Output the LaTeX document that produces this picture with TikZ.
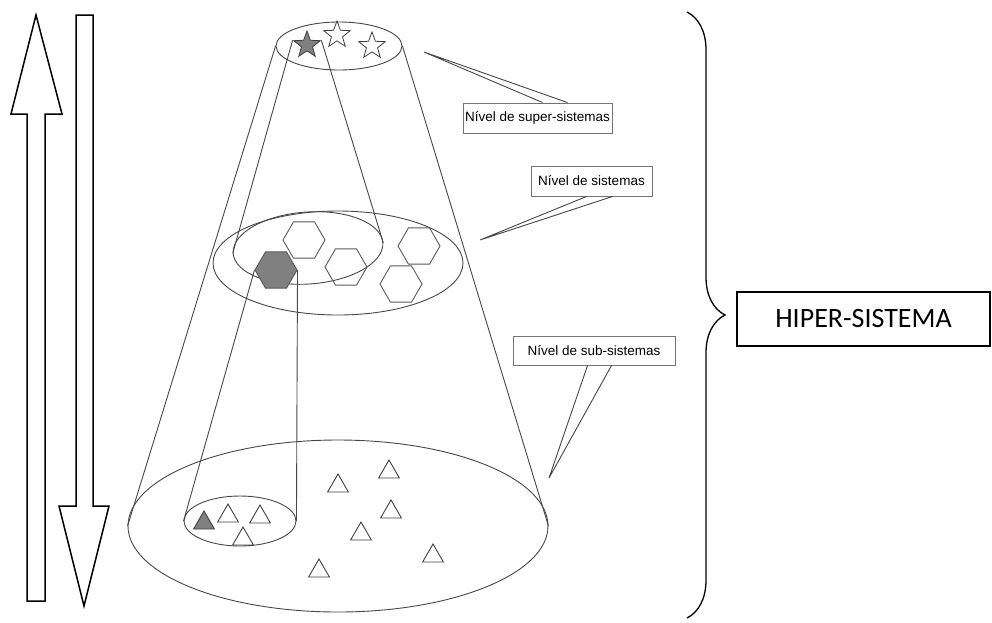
\documentclass[tikz,border=0pt]{standalone}
\usepackage{fontspec}
\setmainfont{Liberation Sans}
\newfontfamily\hiperfont{Carlito}
\usepackage{tikz}
\usetikzlibrary{shapes.geometric, decorations.pathreplacing, positioning}

\begin{document}
\begin{tikzpicture}[x=1pt, y=-1pt,
    cone/.style={draw=black!72, line width=0.9pt},
    ring/.style={ellipse, draw=black!72, line width=0.9pt, inner sep=0pt},
    hollow/.style={draw=black, line width=1.5pt, fill=white, line join=miter},
    levelbox/.style={draw=black!55, line width=0.9pt, fill=white, inner sep=0pt,
        minimum height=30pt, font=\fontsize{13.5}{15}\selectfont},
    hex/.style={regular polygon, regular polygon sides=6, minimum size=42pt,
        inner sep=0pt, draw=black!65, line width=0.9pt},
    tri/.style={regular polygon, regular polygon sides=3, minimum size=24pt,
        inner sep=0pt, draw=black!75, line width=0.9pt},
    starry/.style={star, star points=5, star point ratio=2.4, minimum size=28pt,
        inner sep=0pt, draw=black!75, line width=0.8pt},
    shaded/.style={fill=black!50}]
    \useasboundingbox (0,0) rectangle (992,622);

    % the two hollow arrows
    \draw[hollow] (36,15) -- (62,114) -- (45,114) -- (45,601) -- (27,601) -- (27,114) -- (11,114) -- cycle;
    \draw[hollow] (76,15) -- (93,15) -- (93,506) -- (109,506) -- (84,606) -- (59,506) -- (76,506) -- cycle;

    % cone
    \node[ring, minimum width=126pt, minimum height=48pt] (top) at (339,46) {};
    \node[ring, minimum width=250pt, minimum height=104pt] (mid) at (338,263) {};
    \node[ring, minimum width=150pt, minimum height=72pt, rotate=4] (inner) at (308,248) {};
    \node[ring, minimum width=420pt, minimum height=172pt] (base) at (338,526) {};
    \node[ring, minimum width=112pt, minimum height=50pt] (pocket) at (240,521) {};
    \draw[cone] (top.west) -- (base.west);
    \draw[cone] (top.east) -- (base.east);

    % super-sistemas
    \node[starry, shaded] (sStar) at (307,45) {};
    \node[starry] (star2) at (337,35) {};
    \node[starry] (star3) at (372,46) {};
    \draw[cone] (sStar.outer point 2) -- (inner.west);
    \draw[cone] (sStar.outer point 5) -- (inner.east);

    % sistemas
    \foreach \Point/\Name in {(304,240)/hexA, (346,267)/hexB, (419,246)/hexC, (401,284)/hexD}
        \node[hex] (\Name) at \Point {};
    \node[hex, shaded] (sHex) at (276,270) {};
    \draw[cone] (sHex.west) -- (pocket.west);
    \draw[cone] (sHex.east) -- (pocket.east);

    % sub-sistemas
    \node[tri, shaded] (sTri) at (204,523) {};
    \foreach \Point/\Name in {(228,516)/triA, (260,517)/triB, (243,539)/triC, (338,486)/triD,
        (389,472)/triE, (391,512)/triF, (361,534)/triG, (433,556)/triH, (319,571)/triI}
        \node[tri] (\Name) at \Point {};

    % level labels
    \node[levelbox, minimum width=149pt] (super) at (537.5,118) {Nível de super-sistemas};
    \node[levelbox, minimum width=121pt] (sis) at (591.5,181) {Nível de sistemas};
    \node[levelbox, minimum width=162pt, minimum height=29pt] (sub) at (594,350.5) {Nível de sub-sistemas};
    \coordinate (superTip) at (424,52);
    \coordinate (sisTip) at (480,240);
    \coordinate (subTip) at (549,478);
    \draw[cone] ([xshift=80pt]super.north west) -- (superTip) -- ([xshift=105pt]super.north west);
    \draw[cone] ([xshift=56pt]sis.south west) -- (sisTip) -- ([xshift=82pt]sis.south west);
    \draw[cone] ([xshift=75pt]sub.south west) -- (subTip) -- ([xshift=99pt]sub.south west);

    % hiper-sistema
    \draw[line width=1.3pt, decorate, decoration={brace, amplitude=38pt}] (687,12) -- (687,618);
    \node[draw, line width=1.3pt, minimum width=253pt, minimum height=54pt, inner sep=0pt,
        font=\hiperfont\fontsize{28}{30}\selectfont] (hiper) at (863.5,319) {HIPER-SISTEMA};

  \end{tikzpicture}
\end{document}
